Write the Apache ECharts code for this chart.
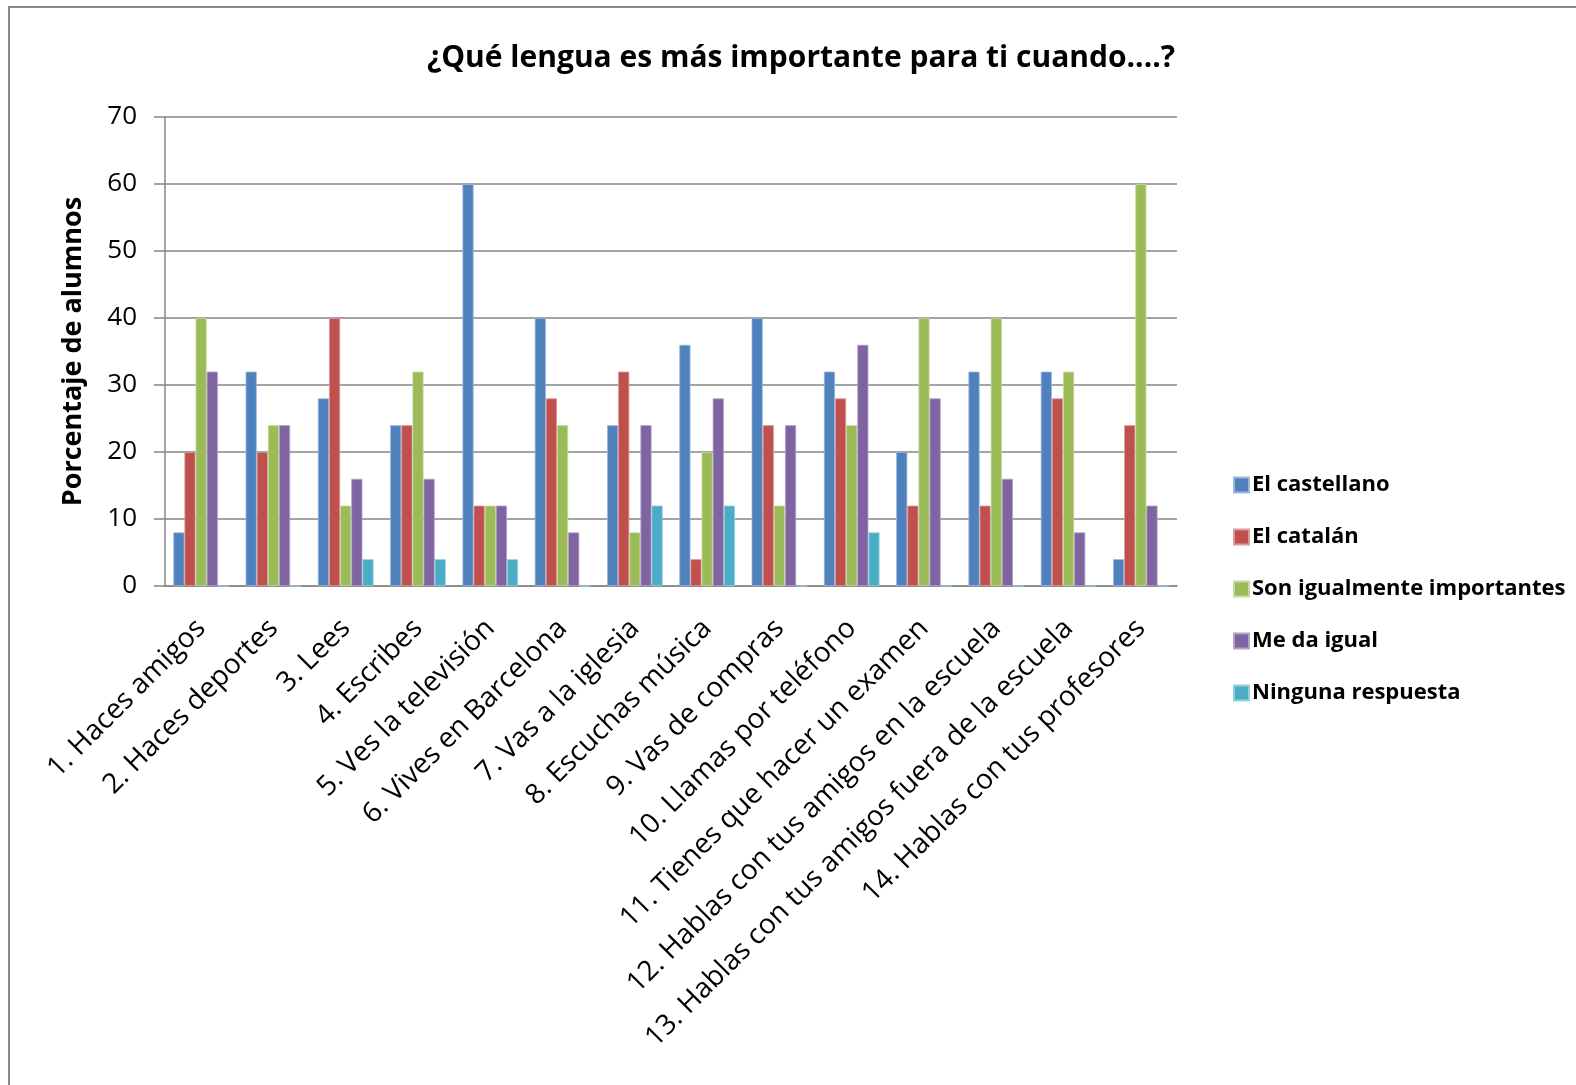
<!DOCTYPE html>
<html>
<head>
<meta charset="utf-8">
<script src="https://cdn.jsdelivr.net/npm/echarts@6/dist/echarts.min.js"></script>
<style>
html,body{margin:0;padding:0;background:#fff;}
#chart{width:1576px;height:1085px;}
</style>
</head>
<body>
<div id="chart"></div>
<script>
const categories = [
  "1. Haces amigos",
  "2. Haces deportes",
  "3. Lees",
  "4. Escribes",
  "5. Ves la televisión",
  "6. Vives en Barcelona",
  "7. Vas a la iglesia",
  "8. Escuchas música",
  "9. Vas de compras",
  "10. Llamas por teléfono",
  "11. Tienes que hacer un examen",
  "12. Hablas con tus amigos en la escuela",
  "13. Hablas con tus amigos fuera de la escuela",
  "14. Hablas con tus profesores"
];
const seriesNames = ["El castellano", "El catalán", "Son igualmente importantes", "Me da igual", "Ninguna respuesta"];
const castellano = [8, 32, 28, 24, 60, 40, 24, 36, 40, 32, 20, 32, 32, 4];
const catalan    = [20, 20, 40, 24, 12, 28, 32, 4, 24, 28, 12, 12, 28, 24];
const igual      = [40, 24, 12, 32, 12, 24, 8, 20, 12, 24, 40, 40, 32, 60];
const meDaIgual  = [32, 24, 16, 16, 12, 8, 24, 28, 24, 36, 28, 16, 8, 12];
const ninguna    = [0, 0, 4, 4, 4, 0, 12, 12, 0, 8, 0, 0, 0, 0];
const colors = ["#4F81BD", "#C0504D", "#9BBB59", "#8064A2", "#4BACC6"];
const borderColors = ["#9db7dc", "#dc9b99", "#c6da9f", "#b3a2c8", "#93cfe0"];
const seriesData = [castellano, catalan, igual, meDaIgual, ninguna];

const FONT = "Open Sans";
const chart = echarts.init(document.getElementById('chart'), null, {renderer: 'canvas'});
chart.setOption({
  animation: false,
  backgroundColor: '#fff',
  color: colors,
  textStyle: {fontFamily: FONT},
  title: {
    text: "¿Qué lengua es más importante para ti cuando....?",
    left: 796, top: 38, textAlign: 'center',
    textStyle: {fontFamily: FONT, fontWeight: 'bold', fontSize: 30, color: '#000'}
  },
  graphic: [{
    type: 'rect', silent: true, z: -10,
    shape: {x: 9, y: 7, width: 1620, height: 1120},
    style: {fill: 'none', stroke: '#8a8a8a', lineWidth: 2}
  }],
  legend: {
    orient: 'vertical', left: 1228, top: 469,
    itemWidth: 15, itemHeight: 15, itemGap: 30,
    icon: 'rect',
    textStyle: {fontFamily: FONT, fontSize: 22, fontWeight: 'bold', color: '#000', padding: [0, 0, 0, -2]},
    data: seriesNames
  },
  grid: {left: 165, right: 399, top: 117, bottom: 499, containLabel: false},
  xAxis: {
    type: 'category', data: categories,
    axisLine: {lineStyle: {color: '#868686', width: 1.5}},
    axisTick: {show: false},
    axisLabel: {rotate: 45, interval: 0, fontFamily: FONT, fontSize: 28, color: '#000', margin: 38}
  },
  yAxis: {
    type: 'value', min: 0, max: 70, interval: 10,
    name: 'Porcentaje de alumnos', nameLocation: 'middle', nameGap: 78, nameRotate: 90,
    nameTextStyle: {fontFamily: FONT, fontWeight: 'bold', fontSize: 27, color: '#000'},
    axisLine: {show: true, lineStyle: {color: '#868686', width: 1.5}},
    axisTick: {show: true, length: 11, lineStyle: {color: '#868686', width: 1.5}},
    axisLabel: {fontFamily: FONT, fontSize: 26, color: '#000', margin: 28},
    splitLine: {lineStyle: {color: '#868686', width: 1.5}}
  },
  series: seriesNames.map((n, i) => ({
    name: n, type: 'bar', data: seriesData[i],
    barGap: '0%', barCategoryGap: '23%',
    itemStyle: {color: colors[i], borderColor: borderColors[i], borderWidth: 0.8}
  }))
});
</script>
</body>
</html>
